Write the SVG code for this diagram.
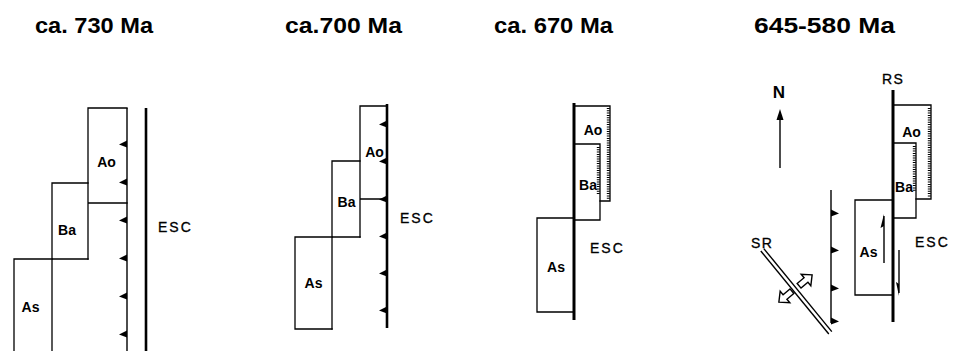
<svg xmlns="http://www.w3.org/2000/svg" width="953" height="351" viewBox="0 0 953 351">
<style>
.bg{fill:#fff}
.box{fill:none;stroke:#000;stroke-width:1.3;stroke-linecap:square}
.thin{fill:none;stroke:#000;stroke-width:1.4}
.thick{fill:none;stroke:#000;stroke-width:2.6}
.tick{fill:none;stroke:#000;stroke-width:3;stroke-dasharray:1 1.3}
.tooth{fill:#000;stroke:none}
.title{font-family:"Liberation Sans",Arial,sans-serif;font-size:22px;font-weight:bold;fill:#000}
.lbl{font-family:"Liberation Sans",Arial,sans-serif;font-size:14px;font-weight:bold;fill:#000;text-anchor:middle}
.esc{font-family:"Liberation Sans",Arial,sans-serif;font-size:14px;fill:#000;letter-spacing:2px;stroke:#000;stroke-width:0.3}
.hollow{fill:#fff;stroke:#000;stroke-width:1.4;stroke-linejoin:miter}
</style>
<defs>
<polygon id="tl" points="0,-3.5 -8,0.5 0,3.5" class="tooth"/>
<polygon id="tr" points="0,-3.5 8,0.5 0,3.5" class="tooth"/>
<path id="ha" d="M-9,-3 L0,-3 L0,-7.5 L8,0 L0,7.5 L0,3 L-9,3 Z" class="hollow"/>
</defs>
<rect class="bg" width="953" height="351"/>

<g id="titles">
<text class="title" x="35" y="33" textLength="118" lengthAdjust="spacingAndGlyphs">ca. 730 Ma</text>
<text class="title" x="285" y="33" textLength="117" lengthAdjust="spacingAndGlyphs">ca.700 Ma</text>
<text class="title" x="494" y="33" textLength="119" lengthAdjust="spacingAndGlyphs">ca. 670 Ma</text>
<text class="title" x="754" y="33" textLength="141" lengthAdjust="spacingAndGlyphs">645-580 Ma</text>
</g>

<!-- Panel 1 -->
<g id="p1-Ao"><path class="box" d="M88,259 V108 H127 M88,203 H127"/><text class="lbl" x="106.5" y="167">Ao</text></g>
<g id="p1-Ba"><path class="box" d="M52,351 V183 H88 M52,259 H88"/><text class="lbl" x="67" y="235">Ba</text></g>
<g id="p1-As"><path class="box" d="M14,351 V259 H52"/><text class="lbl" x="30.5" y="312">As</text></g>
<g id="p1-ESC"><text class="esc" x="158" y="232">ESC</text></g>

<!-- Panel 2 -->
<g id="p2-Ao"><path class="box" d="M360,237 V106 H387 M360,199 H387"/><text class="lbl" x="374.5" y="157">Ao</text></g>
<g id="p2-Ba"><path class="box" d="M332,329 V161 H360 M332,237 H360"/><text class="lbl" x="346.5" y="207">Ba</text></g>
<g id="p2-As"><path class="box" d="M295,237 H332 M295,237 V329 H332"/><text class="lbl" x="313.5" y="288">As</text></g>
<g id="p2-ESC"><text class="esc" x="400" y="223">ESC</text></g>

<!-- Panel 3 -->
<g id="p3-Ao"><path class="box" d="M574,106 H610 V201 H600"/><line class="tick" x1="608.3" y1="108" x2="608.3" y2="200"/><text class="lbl" x="593" y="135">Ao</text></g>
<g id="p3-Ba"><path class="box" d="M574,144 H600 V220 H574"/><line class="tick" x1="598.3" y1="147" x2="598.3" y2="194"/><text class="lbl" x="588" y="190">Ba</text></g>
<g id="p3-As"><path class="box" d="M574,218 H537 V312 H574"/><text class="lbl" x="556" y="272">As</text></g>
<g id="p3-ESC"><text class="esc" x="590" y="253">ESC</text></g>

<!-- Panel 4 -->
<g id="p4-N"><text x="779" y="98" style="font-family:'Liberation Sans',Arial,sans-serif;font-size:17px;font-weight:bold;text-anchor:middle">N</text>
<line class="thin" x1="780" y1="168" x2="780" y2="116"/><polygon class="tooth" points="780,109 776.5,120 783.5,120"/></g>
<g id="p4-RS"><text class="esc" x="882" y="84" style="letter-spacing:1.5px">RS</text></g>
<g id="p4-Ao"><path class="box" d="M893,105 H931 V199 H916"/><line class="tick" x1="929.3" y1="108" x2="929.3" y2="197"/><text class="lbl" x="911.5" y="137">Ao</text></g>
<g id="p4-Ba"><path class="box" d="M893,143 H916 V218 H893"/><line class="tick" x1="914.3" y1="146" x2="914.3" y2="192"/><text class="lbl" x="904" y="192">Ba</text></g>
<g id="p4-As"><path class="box" d="M893,200 H855 V295 H893"/><text class="lbl" x="868.5" y="257">As</text></g>
<g id="p4-ESC"><text class="esc" x="915" y="247">ESC</text></g>
<g id="p4-SR"><text class="esc" x="751" y="248" style="letter-spacing:1.5px">SR</text>
<use href="#ha" transform="translate(806,280) rotate(-40)"/>
<use href="#ha" transform="translate(785,297) rotate(140)"/></g>

<g id="connectors">
<!-- panel 1 -->
<line class="thin" x1="127" y1="108" x2="127" y2="351"/>
<use href="#tl" x="127" y="144"/><use href="#tl" x="127" y="182"/><use href="#tl" x="127" y="220"/>
<use href="#tl" x="127" y="258"/><use href="#tl" x="127" y="296"/><use href="#tl" x="127" y="334"/>
<line class="thick" x1="146" y1="108" x2="146" y2="351"/>
<!-- panel 2 -->
<path class="thick" d="M387,104 V328"/>
<use href="#tl" x="387" y="124"/><use href="#tl" x="387" y="161"/><use href="#tl" x="387" y="199"/>
<use href="#tl" x="387" y="236"/><use href="#tl" x="387" y="273"/><use href="#tl" x="387" y="310"/>
<!-- panel 3 -->
<line x1="574" y1="103" x2="574" y2="320" stroke="#000" stroke-width="3"/>
<!-- panel 4 -->
<line x1="893" y1="90" x2="893" y2="322" stroke="#000" stroke-width="3"/>
<line class="thin" x1="831" y1="190" x2="831" y2="323"/>
<use href="#tr" x="831" y="213"/><use href="#tr" x="831" y="250"/><use href="#tr" x="831" y="288"/><use href="#tr" x="831" y="321"/>
<line class="thin" x1="760.8" y1="251" x2="828.8" y2="334"/>
<line class="thin" x1="763.8" y1="248.6" x2="831.8" y2="331.6"/>
<line class="thin" x1="884" y1="263" x2="884" y2="216"/><polygon class="tooth" points="884,214 880.5,228 884,226"/>
<line class="thin" x1="899" y1="250" x2="899" y2="293"/><polygon class="tooth" points="899,296 896,282 899,284"/>
</g>
</svg>
